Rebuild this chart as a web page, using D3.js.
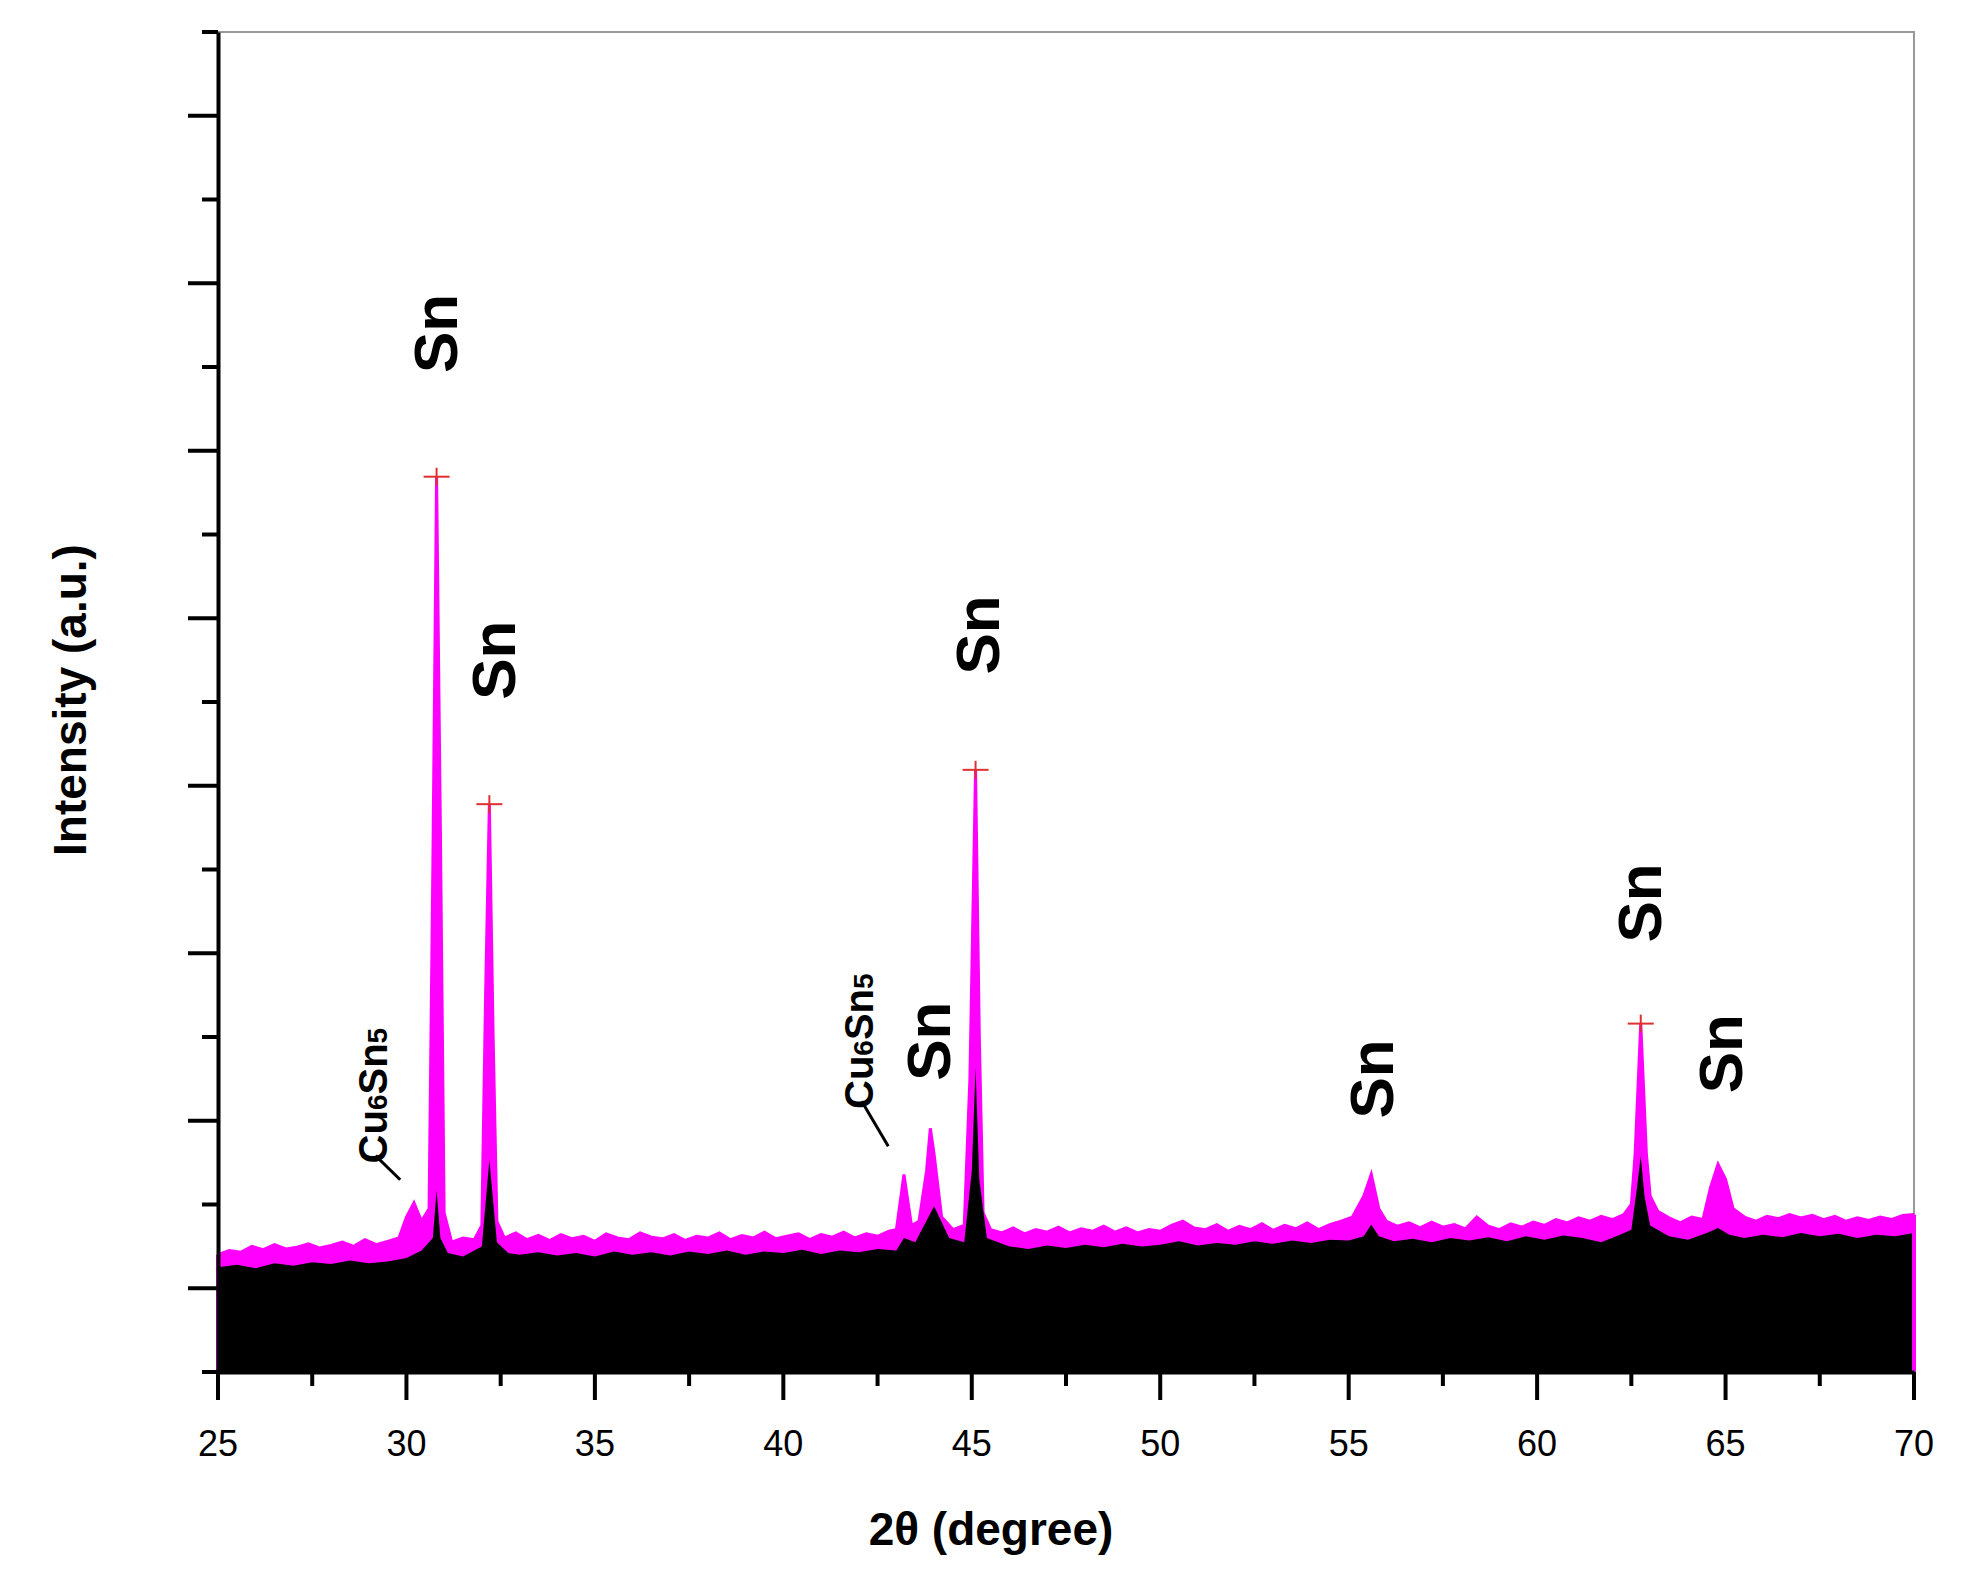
<!DOCTYPE html>
<html>
<head>
<meta charset="utf-8">
<script src="https://cdn.jsdelivr.net/npm/d3@7"></script>
<style>
  body { margin: 0; background: #fff; }
  text { font-family: "Liberation Sans", Arial, sans-serif; }
</style>
</head>
<body>
<svg id="chart" width="1970" height="1589"></svg>
<script>
// Pink (upper) pattern: [2θ, intensity in axis half-steps]
const pinkPattern = [
  [25.0,1.40],[25.3,1.45],[25.6,1.43],[25.9,1.50],[26.2,1.46],[26.5,1.52],[26.8,1.47],[27.1,1.49],
  [27.4,1.53],[27.7,1.48],[28.0,1.51],[28.3,1.55],[28.6,1.50],[28.9,1.58],[29.2,1.52],[29.5,1.56],
  [29.8,1.60],[30.0,1.85],[30.2,2.02],[30.4,1.80],[30.6,1.95],[30.7,6.0],[30.8,10.69],[30.9,6.5],
  [31.0,1.9],[31.2,1.55],[31.5,1.60],[31.8,1.58],[32.0,1.75],[32.1,4.5],[32.2,6.78],[32.3,4.0],
  [32.4,1.8],[32.6,1.60],[32.9,1.66],[33.2,1.58],[33.5,1.63],[33.8,1.57],[34.1,1.64],[34.4,1.59],
  [34.7,1.62],[35.0,1.56],[35.3,1.65],[35.6,1.60],[35.9,1.58],[36.2,1.66],[36.5,1.61],[36.8,1.59],
  [37.1,1.64],[37.4,1.57],[37.7,1.62],[38.0,1.60],[38.3,1.66],[38.6,1.58],[38.9,1.63],[39.2,1.60],
  [39.5,1.67],[39.8,1.59],[40.1,1.62],[40.4,1.65],[40.7,1.58],[41.0,1.64],[41.3,1.61],[41.6,1.67],
  [41.9,1.60],[42.2,1.65],[42.5,1.62],[42.8,1.68],[43.0,1.70],[43.2,2.36],[43.4,1.75],[43.6,1.80],
  [43.8,2.4],[43.9,2.91],[44.0,2.6],[44.2,1.85],[44.5,1.70],[44.8,1.75],[44.95,3.5],[45.1,7.19],
  [45.2,4.0],[45.3,1.9],[45.5,1.70],[45.8,1.66],[46.1,1.72],[46.4,1.65],[46.7,1.70],[47.0,1.67],
  [47.3,1.73],[47.6,1.66],[47.9,1.71],[48.2,1.68],[48.5,1.74],[48.8,1.67],[49.1,1.72],[49.4,1.66],
  [49.7,1.70],[50.0,1.68],[50.3,1.75],[50.6,1.80],[50.9,1.72],[51.2,1.70],[51.5,1.76],[51.8,1.68],
  [52.1,1.74],[52.4,1.70],[52.7,1.77],[53.0,1.69],[53.3,1.75],[53.6,1.71],[53.9,1.78],[54.2,1.70],
  [54.5,1.76],[54.8,1.80],[55.1,1.85],[55.4,2.1],[55.6,2.36],[55.8,1.95],[56.0,1.80],[56.3,1.74],
  [56.6,1.78],[56.9,1.72],[57.2,1.79],[57.5,1.73],[57.8,1.76],[58.1,1.71],[58.4,1.85],[58.7,1.74],
  [59.0,1.70],[59.3,1.77],[59.6,1.73],[59.9,1.79],[60.2,1.75],[60.5,1.82],[60.8,1.78],[61.1,1.84],
  [61.4,1.80],[61.7,1.86],[62.0,1.82],[62.3,1.88],[62.5,2.0],[62.6,2.6],[62.75,4.16],[62.9,2.6],
  [63.0,2.1],[63.2,1.92],[63.5,1.84],[63.8,1.78],[64.1,1.85],[64.4,1.82],[64.6,2.2],[64.8,2.48],
  [65.0,2.3],[65.2,1.95],[65.5,1.85],[65.8,1.80],[66.1,1.86],[66.4,1.83],[66.7,1.88],[67.0,1.84],
  [67.3,1.87],[67.6,1.82],[67.9,1.86],[68.2,1.80],[68.5,1.84],[68.8,1.81],[69.1,1.85],[69.4,1.82],
  [69.7,1.87],[70.0,1.88]
];

// Black (lower) pattern
const blackPattern = [
  [25.0,1.25],[25.5,1.28],[26.0,1.24],[26.5,1.30],[27.0,1.27],[27.5,1.31],[28.0,1.29],[28.5,1.33],
  [29.0,1.30],[29.5,1.32],[30.0,1.36],[30.4,1.45],[30.7,1.6],[30.8,2.17],[30.9,1.6],[31.1,1.42],
  [31.5,1.38],[32.0,1.5],[32.2,2.53],[32.4,1.55],[32.7,1.42],[33.0,1.40],[33.5,1.43],[34.0,1.39],
  [34.5,1.42],[35.0,1.38],[35.5,1.44],[36.0,1.40],[36.5,1.43],[37.0,1.39],[37.5,1.44],[38.0,1.41],
  [38.5,1.45],[39.0,1.40],[39.5,1.44],[40.0,1.42],[40.5,1.46],[41.0,1.41],[41.5,1.45],[42.0,1.43],
  [42.5,1.47],[43.0,1.45],[43.2,1.6],[43.5,1.55],[44.0,1.98],[44.4,1.6],[44.8,1.55],[45.0,2.4],
  [45.1,3.63],[45.2,2.3],[45.4,1.6],[46.0,1.50],[46.5,1.47],[47.0,1.51],[47.5,1.48],[48.0,1.52],
  [48.5,1.49],[49.0,1.53],[49.5,1.50],[50.0,1.52],[50.5,1.56],[51.0,1.51],[51.5,1.54],[52.0,1.52],
  [52.5,1.56],[53.0,1.53],[53.5,1.57],[54.0,1.54],[54.5,1.58],[55.0,1.57],[55.4,1.62],[55.6,1.76],
  [55.8,1.62],[56.2,1.56],[56.7,1.59],[57.2,1.55],[57.7,1.60],[58.2,1.57],[58.7,1.61],[59.2,1.56],
  [59.7,1.62],[60.2,1.58],[60.7,1.63],[61.2,1.60],[61.7,1.55],[62.2,1.64],[62.5,1.70],[62.65,2.2],
  [62.75,2.58],[62.85,2.1],[63.0,1.75],[63.5,1.62],[64.0,1.58],[64.5,1.66],[64.8,1.72],[65.1,1.64],
  [65.5,1.60],[66.0,1.64],[66.5,1.61],[67.0,1.66],[67.5,1.62],[68.0,1.65],[68.5,1.60],[69.0,1.64],
  [69.5,1.62],[70.0,1.66]
];

const peakMarks = [[30.8,10.69],[32.2,6.78],[45.1,7.19],[62.75,4.16]];
const snLabels = [[30.75,12.4],[32.3,8.5],[45.15,8.8],[43.85,3.95],[55.6,3.5],[62.7,5.6],[64.85,3.8]];
const cuLabels = [[29.1,3.3,30.1,2.2],[42.0,3.95,43.05,2.6]];
const xTickLabels = [25,30,35,40,45,50,55,60,65,70];

const svg = d3.select("#chart");
const mLeft = 218, mRight = 1914, mTop = 32, mBottom = 1372;
const x = d3.scaleLinear().domain([25, 70]).range([mLeft, mRight]);
const y = d3.scaleLinear().domain([0, 16]).range([mBottom, mTop]);

// Frame
svg.append("rect").attr("x", mLeft).attr("y", mTop).attr("width", mRight - mLeft).attr("height", mBottom - mTop)
  .attr("fill", "none").attr("stroke", "#999").attr("stroke-width", 2);

// Patterns
const area = d3.area().x((d) => x(d[0])).y0(y(0)).y1((d) => y(d[1]));
const line = d3.line().x((d) => x(d[0])).y((d) => y(d[1]));
svg.append("path").datum(pinkPattern).attr("d", area).attr("fill", "#ff00ff");
svg.append("path").datum(pinkPattern).attr("d", line).attr("fill", "none").attr("stroke", "#ff00ff").attr("stroke-width", 3);
svg.append("path").datum(blackPattern).attr("d", area).attr("fill", "#000");
svg.append("line").attr("x1", x(25)).attr("x2", x(25)).attr("y1", y(0)).attr("y2", y(1.4)).attr("stroke", "#ff00ff").attr("stroke-width", 4);
svg.append("line").attr("x1", x(70)).attr("x2", x(70)).attr("y1", y(0)).attr("y2", y(1.88)).attr("stroke", "#ff00ff").attr("stroke-width", 4);

// Peak markers
peakMarks.forEach(([px, py]) => {
  svg.append("line").attr("x1", x(px) - 13).attr("x2", x(px) + 13).attr("y1", y(py)).attr("y2", y(py)).attr("stroke", "#e03030").attr("stroke-width", 2);
  svg.append("line").attr("x1", x(px)).attr("x2", x(px)).attr("y1", y(py) - 9).attr("y2", y(py) + 9).attr("stroke", "#e03030").attr("stroke-width", 2);
});

// X axis
const xAxis = d3.axisBottom(x).tickValues(d3.range(25, 70.1, 2.5)).tickSize(0).tickFormat("");
svg.append("g").attr("transform", `translate(0,${mBottom})`).call(xAxis).select(".domain").attr("stroke-width", 4);
svg.append("g").selectAll("line").data(d3.range(25, 70.1, 2.5)).enter().append("line")
  .attr("x1", (d) => x(d)).attr("x2", (d) => x(d)).attr("y1", mBottom)
  .attr("y2", (d) => mBottom + (d % 5 === 0 ? 28 : 14)).attr("stroke", "#000").attr("stroke-width", 4);
svg.append("g").selectAll("text").data(xTickLabels).enter().append("text")
  .attr("x", (d) => x(d)).attr("y", mBottom + 84).attr("text-anchor", "middle")
  .attr("font-size", 36).text((d) => d);

// Y axis (no labels)
const yAxis = d3.axisLeft(y).tickValues(d3.range(0, 16.1, 1)).tickSize(0).tickFormat("");
svg.append("g").attr("transform", `translate(${mLeft},0)`).call(yAxis).select(".domain").attr("stroke-width", 4);
svg.append("g").selectAll("line").data(d3.range(0, 16.1, 1)).enter().append("line")
  .attr("x1", mLeft).attr("x2", (d) => mLeft - (d % 2 === 1 ? 30 : 16))
  .attr("y1", (d) => y(d)).attr("y2", (d) => y(d)).attr("stroke", "#000").attr("stroke-width", 4);

// Axis titles
svg.append("text").attr("x", (mLeft + mRight) / 2 - 75).attr("y", 1545).attr("text-anchor", "middle")
  .attr("font-size", 46).attr("font-weight", "bold").text("2θ (degree)");
svg.append("text").attr("transform", "translate(86,700) rotate(-90)").attr("text-anchor", "middle")
  .attr("font-size", 46).attr("font-weight", "bold").text("Intensity (a.u.)");

// Peak labels
snLabels.forEach(([lx, ly]) => {
  svg.append("text").attr("transform", `translate(${x(lx) + 22},${y(ly)}) rotate(-90)`)
    .attr("text-anchor", "middle").attr("font-size", 62).attr("font-weight", "bold").text("Sn");
});
cuLabels.forEach(([lx, ly, ex, ey]) => {
  const t = svg.append("text").attr("transform", `translate(${x(lx) + 14},${y(ly)}) rotate(-90)`)
    .attr("text-anchor", "middle").attr("font-size", 40).attr("font-weight", "bold");
  t.append("tspan").text("Cu");
  t.append("tspan").attr("font-size", 28).text("6");
  t.append("tspan").text("Sn");
  t.append("tspan").attr("font-size", 28).text("5");
  svg.append("line").attr("x1", x(lx) + 3).attr("y1", y(ly) + 60).attr("x2", x(ex) - 10).attr("y2", y(ey) - 8)
    .attr("stroke", "#000").attr("stroke-width", 3);
});
</script>
</body>
</html>
